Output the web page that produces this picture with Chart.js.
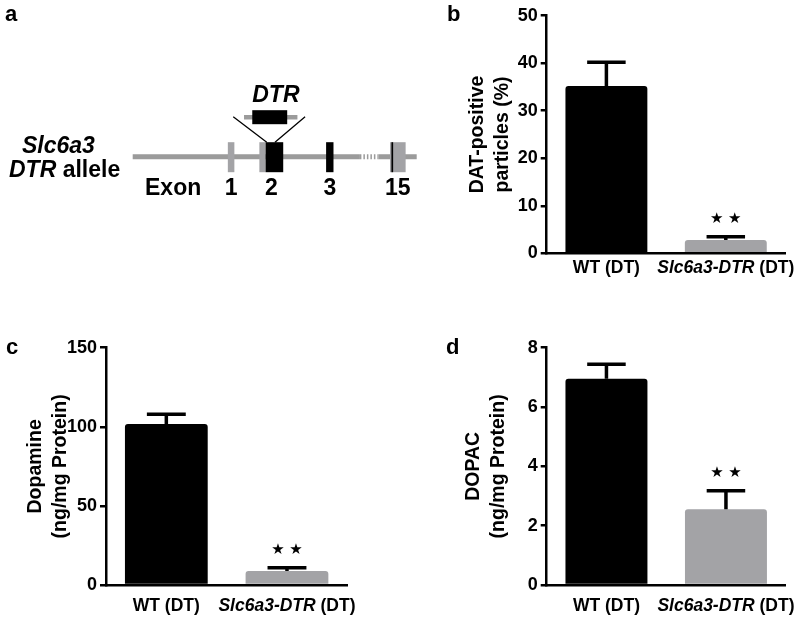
<!DOCTYPE html>
<html>
<head>
<meta charset="utf-8">
<script src="https://cdn.jsdelivr.net/npm/chart.js@4.4.0/dist/chart.umd.min.js"></script>
<style>
  body { margin: 0; background: #fff; }
  #page { position: relative; width: 800px; height: 620px; overflow: hidden; }
  canvas { position: absolute; }
  .panel { position: absolute; font: bold 22px "Liberation Sans", Arial, sans-serif; line-height: 1; color: #000; }
</style>
</head>
<body>
<div id="page">
  <canvas id="chartA" width="430" height="300" style="left:0;top:0"></canvas>
  <canvas id="chartB" width="370" height="300" style="left:430px;top:0"></canvas>
  <canvas id="chartC" width="400" height="320" style="left:0;top:300px"></canvas>
  <canvas id="chartD" width="400" height="320" style="left:400px;top:300px"></canvas>
  <div class="panel" style="left:5px;top:3px">a</div>
  <div class="panel" style="left:447px;top:3px">b</div>
  <div class="panel" style="left:6px;top:336px">c</div>
  <div class="panel" style="left:446px;top:336px">d</div>
</div>
<script>
// ---------- data ----------
const groups = ['WT (DT)', 'Slc6a3-DTR (DT)'];
const italicPart = ['', 'Slc6a3-DTR'];
const sigMarks = ['', '★★'];

const datMean = [35.2, 2.8];
const datSem = [5.0, 0.7];
const datTicks = [0, 10, 20, 30, 40, 50];

const dopamineMean = [101.8, 8.8];
const dopamineSem = [6.1, 2.1];
const dopamineTicks = [0, 50, 100, 150];

const dopacMean = [6.95, 2.55];
const dopacSem = [0.49, 0.63];
const dopacTicks = [0, 2, 4, 6, 8];

// gene schematic (positions along the allele, 0-100)
const exonLabels = ['1', '2', '3', '15'];
const exonGrayStart = [33.5, 44.6, null, 90.6];
const exonGrayEnd = [35.8, 46.8, null, 96.1];
const exonBlackStart = [null, 46.8, 68.1, 91.1];
const exonBlackEnd = [null, 53.0, 70.7, 91.7];
const breakRange = [80.0, 86.5];
const cassetteArm = [39.2, 58.0];
const cassetteBox = [42.1, 54.4];
const insertTop = [35.4, 60.7];
const insertBottom = [47.2, 50.1];

const FONT = '"Liberation Sans", Arial, sans-serif';
const GRAY = '#a3a3a6';
const LINE_GRAY = '#9b9b9b';
Chart.defaults.font.family = FONT;
Chart.defaults.color = '#000';

// ---------- panel a : allele diagram ----------
const geneDiagram = {
    id: 'geneDiagram',
    afterDraw(chart) {
        const ctx = chart.ctx;
        const x = chart.scales.x;
        const y0 = chart.scales.y.getPixelForValue(0);
        const px = v => x.getPixelForValue(v);
        ctx.save();

        // backbone with break
        ctx.strokeStyle = LINE_GRAY;
        ctx.lineWidth = 5;
        ctx.beginPath();
        ctx.moveTo(px(0), y0); ctx.lineTo(px(breakRange[0]), y0);
        ctx.moveTo(px(breakRange[1]), y0); ctx.lineTo(px(100), y0);
        ctx.stroke();
        ctx.setLineDash([1.5, 2]);
        ctx.beginPath();
        ctx.moveTo(px(breakRange[0]), y0); ctx.lineTo(px(breakRange[1]), y0);
        ctx.stroke();
        ctx.setLineDash([]);

        // exons
        const top = y0 - 14.5, h = 30;
        exonLabels.forEach((lab, i) => {
            if (exonGrayStart[i] !== null) {
                ctx.fillStyle = GRAY;
                ctx.fillRect(px(exonGrayStart[i]), top, px(exonGrayEnd[i]) - px(exonGrayStart[i]), h);
            }
            if (exonBlackStart[i] !== null) {
                ctx.fillStyle = '#000';
                ctx.fillRect(px(exonBlackStart[i]), top, px(exonBlackEnd[i]) - px(exonBlackStart[i]), h);
            }
            const s = exonGrayStart[i] !== null ? exonGrayStart[i] : exonBlackStart[i];
            const e = exonGrayEnd[i] !== null ? Math.max(exonGrayEnd[i], exonBlackEnd[i] || 0) : exonBlackEnd[i];
            ctx.fillStyle = '#000';
            ctx.font = 'bold 23px ' + FONT;
            ctx.textAlign = 'center';
            ctx.textBaseline = 'alphabetic';
            ctx.fillText(lab, (px(s) + px(e)) / 2, y0 + 38);
        });

        // insertion lines
        ctx.strokeStyle = '#000';
        ctx.lineWidth = 1.3;
        ctx.beginPath();
        ctx.moveTo(px(insertTop[0]), y0 - 40); ctx.lineTo(px(insertBottom[0]), top);
        ctx.moveTo(px(insertTop[1]), y0 - 40); ctx.lineTo(px(insertBottom[1]), top);
        ctx.stroke();

        // DTR cassette
        ctx.strokeStyle = LINE_GRAY;
        ctx.lineWidth = 4.5;
        ctx.beginPath();
        ctx.moveTo(px(cassetteArm[0]), y0 - 39.5); ctx.lineTo(px(cassetteArm[1]), y0 - 39.5);
        ctx.stroke();
        ctx.fillStyle = '#000';
        ctx.fillRect(px(cassetteBox[0]), y0 - 46.5, px(cassetteBox[1]) - px(cassetteBox[0]), 14);

        // texts
        ctx.textAlign = 'left';
        ctx.font = 'italic bold 23px ' + FONT;
        ctx.fillText('DTR', px(cassetteBox[0]), y0 - 55);
        ctx.fillText('Slc6a3', 22, y0 - 4);
        ctx.fillText('DTR', 9, y0 + 20);
        const w = ctx.measureText('DTR').width;
        ctx.font = 'bold 23px ' + FONT;
        ctx.fillText(' allele', 9 + w, y0 + 20);
        ctx.fillText('Exon', 145, y0 + 38);
        ctx.restore();
    }
};

new Chart(document.getElementById('chartA'), {
    type: 'scatter',
    data: { datasets: [] },
    options: {
        responsive: false,
        animation: false,
        events: [],
        layout: { padding: { left: 132.7, right: 13.3, top: 100, bottom: 86.6 } },
        plugins: { legend: { display: false }, tooltip: { enabled: false } },
        scales: {
            x: { display: false, min: 0, max: 100 },
            y: { display: false, min: -1, max: 1 }
        }
    },
    plugins: [geneDiagram]
});

// ---------- bar panels ----------
const barExtras = {
    id: 'barExtras',
    afterDatasetsDraw(chart, args, opts) {
        const ctx = chart.ctx;
        const yScale = chart.scales.y;
        const meta = chart.getDatasetMeta(0);
        const values = chart.data.datasets[0].data;
        ctx.save();
        meta.data.forEach((bar, i) => {
            const top = yScale.getPixelForValue(values[i] + opts.sem[i]);
            const cap = bar.width * 0.47;
            ctx.strokeStyle = '#000';
            ctx.lineWidth = 3.5;
            ctx.beginPath();
            ctx.moveTo(bar.x, bar.y);
            ctx.lineTo(bar.x, top);
            ctx.moveTo(bar.x - cap / 2, top);
            ctx.lineTo(bar.x + cap / 2, top);
            ctx.stroke();

            if (sigMarks[i]) {
                ctx.fillStyle = '#000';
                ctx.font = '15px "DejaVu Sans"';
                ctx.textAlign = 'center';
                ctx.textBaseline = 'middle';
                const stars = Array.from(sigMarks[i]);
                stars.forEach((s, k) => {
                    ctx.fillText(s, bar.x + (k - (stars.length - 1) / 2) * 18, top - 18);
                });
            }

            // category label, gene name in italics
            const label = groups[i];
            const ital = italicPart[i];
            const rest = ital ? label.slice(ital.length) : label;
            const fItal = 'italic bold 17.5px ' + FONT;
            const fReg = 'bold 17.5px ' + FONT;
            ctx.font = fItal;
            const w1 = ital ? ctx.measureText(ital).width : 0;
            ctx.font = fReg;
            const w2 = ctx.measureText(rest).width;
            let lx = bar.x - (w1 + w2) / 2;
            const ly = chart.chartArea.bottom + opts.labelGap;
            ctx.textAlign = 'left';
            ctx.textBaseline = 'middle';
            if (ital) {
                ctx.font = fItal;
                ctx.fillText(ital, lx, ly);
                lx += w1;
            }
            ctx.font = fReg;
            ctx.fillText(rest, lx, ly);
        });
        ctx.restore();
    }
};

function makeBarChart(id, mean, sem, ticks, title, o) {
    return new Chart(document.getElementById(id), {
        type: 'bar',
        data: {
            labels: groups,
            datasets: [{
                data: mean,
                backgroundColor: ['#000000', GRAY],
                borderWidth: 0,
                borderRadius: 3,
                barPercentage: 0.686,
                categoryPercentage: 1
            }]
        },
        options: {
            responsive: false,
            animation: false,
            events: [],
            layout: { padding: { top: o.top, right: o.right, left: 0, bottom: 0 } },
            plugins: {
                legend: { display: false },
                tooltip: { enabled: false },
                barExtras: { sem: sem, labelGap: o.labelGap }
            },
            scales: {
                x: {
                    grid: { display: false },
                    ticks: { display: false },
                    border: { display: true, color: '#000', width: 2.5, z: 1 },
                    afterFit: s => { s.height = o.xh; }
                },
                y: {
                    min: ticks[0],
                    max: ticks[ticks.length - 1],
                    ticks: {
                        stepSize: ticks[1] - ticks[0],
                        color: '#000',
                        padding: 3,
                        font: { size: 18, weight: 'bold' }
                    },
                    grid: { drawOnChartArea: false, color: '#000', lineWidth: 2.5, tickLength: 6 },
                    border: { display: true, color: '#000', width: 2.5 },
                    title: {
                        display: true,
                        text: title,
                        color: '#000',
                        font: { size: 19.5, weight: 'bold', lineHeight: 1.3 },
                        padding: { top: o.titlePad, bottom: 0 }
                    },
                    afterFit: s => { s.width = o.yw; }
                }
            }
        },
        plugins: [barExtras]
    });
}

makeBarChart('chartB', datMean, datSem, datTicks, ['DAT-positive', 'particles (%)'],
    { top: 15.7, right: 14.5, xh: 46.7, yw: 116.7, titlePad: 34.6, labelGap: 15 });
makeBarChart('chartC', dopamineMean, dopamineSem, dopamineTicks, ['Dopamine', '(ng/mg Protein)'],
    { top: 47.7, right: 52.7, xh: 35, yw: 106, titlePad: 23.0, labelGap: 21 });
makeBarChart('chartD', dopacMean, dopacSem, dopacTicks, ['DOPAC', '(ng/mg Protein)'],
    { top: 47.7, right: 14.3, xh: 35, yw: 146.7, titlePad: 60.6, labelGap: 21 });
</script>
</body>
</html>
